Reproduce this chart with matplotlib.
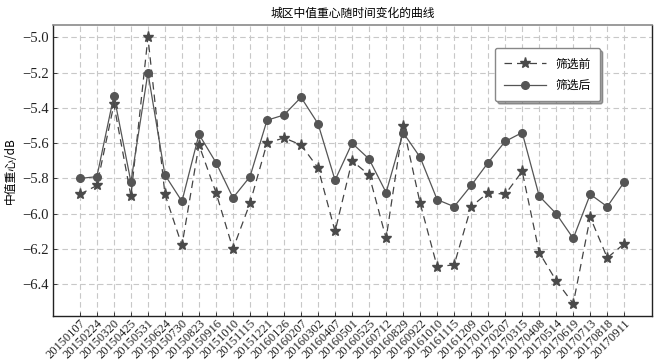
import matplotlib
matplotlib.use("Agg")
import matplotlib.pyplot as plt
import numpy as np

dates = ["20150107", "20150224", "20150320", "20150425", "20150531", "20150624",
         "20150730", "20150823", "20150916", "20151010", "20151115", "20151221",
         "20160126", "20160207", "20160302", "20160407", "20160501", "20160525",
         "20160712", "20160829", "20160922", "20161010", "20161115", "20161209",
         "20170102", "20170207", "20170315", "20170408", "20170514", "20170619",
         "20170713", "20170818", "20170911"]

before = [-5.89, -5.84, -5.38, -5.90, -5.00, -5.89, -6.18, -5.61, -5.88, -6.20,
          -5.94, -5.60, -5.57, -5.61, -5.74, -6.10, -5.70, -5.78, -6.14, -5.50,
          -5.94, -6.30, -6.29, -5.96, -5.88, -5.89, -5.76, -6.22, -6.38, -6.51,
          -6.02, -6.25, -6.17]

after = [-5.80, -5.79, -5.33, -5.82, -5.20, -5.78, -5.93, -5.55, -5.71, -5.91,
         -5.79, -5.47, -5.44, -5.34, -5.49, -5.81, -5.60, -5.69, -5.88, -5.54,
         -5.68, -5.92, -5.96, -5.84, -5.71, -5.59, -5.54, -5.90, -6.00, -6.14,
         -5.89, -5.96, -5.82]

labels = ["筛选前", "筛选后"]
title = "城区中值重心随时间变化的曲线"
ylabel = "中值重心/dB"
yticks = [-5.0, -5.2, -5.4, -5.6, -5.8, -6.0, -6.2, -6.4]

cjk = ["Noto Sans CJK SC", "DejaVu Sans"]
serif = ["Liberation Serif", "DejaVu Serif"]

fig = plt.figure(figsize=(6.64, 3.63), dpi=100)
ax = fig.add_axes([53/664, 1 - 316/363, (652 - 53)/664, (316 - 25)/363])

x = np.arange(len(dates))
ax.plot(x, before, linestyle=(0, (6, 4)), color="#444444", lw=0.9,
        marker="*", markersize=8, markerfacecolor="#4a4a4a",
        markeredgecolor="#4a4a4a", label=labels[0], zorder=3)
ax.plot(x, after, linestyle="-", color="#555555", lw=0.9,
        marker="o", markersize=5.5, markerfacecolor="#555555",
        markeredgecolor="#555555", label=labels[1], zorder=3)

ax.set_xlim(-1.58, len(dates) - 1 + 1.63)
ax.set_ylim(-6.58, -4.93)
ax.set_xticks(x)
ax.set_xticklabels(dates, rotation=45, ha="right", rotation_mode="anchor",
                   family=serif, fontsize=9)
ax.set_yticks(yticks)
ax.set_yticklabels([f"\u2212{abs(v):.1f}" for v in yticks], family=serif, fontsize=10.5)
ax.tick_params(axis="both", direction="in", length=3, width=0.6, pad=3,
               colors="#222222")
ax.tick_params(axis="x", pad=1)

ax.grid(True, linestyle=(0, (5, 3)), color="#c8c8c8", lw=0.8)
ax.set_axisbelow(True)

for s in ["left", "bottom", "right"]:
    ax.spines[s].set_color("#222222")
    ax.spines[s].set_linewidth(1.0)
ax.spines["top"].set_color("#8a8a8a")
ax.spines["top"].set_linewidth(1.2)

ax.set_title(title, family=cjk, fontsize=8.5, pad=6)
ax.set_ylabel(ylabel, family=cjk, fontsize=8.5, labelpad=4)

leg = ax.legend(loc="upper left", bbox_to_anchor=((495 - 53)/599, 1 - (48 - 25)/291),
                prop={"family": cjk, "size": 8.5}, frameon=True, fancybox=True,
                shadow=True, borderpad=0.8, handlelength=3.5, labelspacing=0.7,
                handletextpad=0.8, borderaxespad=0)
leg.get_frame().set_edgecolor("#888888")
leg.get_frame().set_facecolor("white")
leg.get_frame().set_alpha(1)

fig.savefig("out.png", dpi=100)
